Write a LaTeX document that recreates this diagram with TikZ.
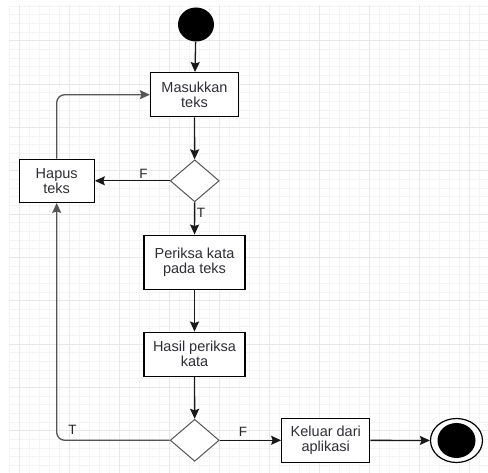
\documentclass[tikz,border=0pt]{standalone}
\usepackage{fontspec}
\setmainfont{Liberation Sans}
\usetikzlibrary{arrows.meta,shapes.geometric}
\definecolor{gridminor}{HTML}{F4F4F4}
\definecolor{gridmajor}{HTML}{E8E8E8}
\definecolor{txt}{HTML}{2E2E36}
\definecolor{edgegray}{HTML}{555555}
\begin{document}
\begin{tikzpicture}[x=1pt,y=-1pt,
  act/.style={draw=black,line width=1.3pt,fill=white,inner sep=0pt,align=center,
    font=\fontsize{14.5}{15}\selectfont,text=txt},
  dec/.style={diamond,draw=edgegray,line width=1pt,fill=white,inner sep=0pt,
    minimum width=49pt,minimum height=42pt},
  flow/.style={draw=black!90,line width=1.3pt,-{Stealth[length=10pt,width=9pt,inset=1.5pt]}},
  loopflow/.style={flow,draw=edgegray,rounded corners=8pt},
  lab/.style={font=\fontsize{13.5}{14}\selectfont,text=black!85,inner sep=1.5pt}
]
\useasboundingbox (0,0) rectangle (488,473);
\fill[white] (0,0) rectangle (488,473);

% background grid: fine lines every 10 x 8.67 units, heavier every fifth
\foreach \i in {0,...,47} \draw[gridminor,line width=0.8pt] ({9+10*\i},5) -- ({9+10*\i},473);
\foreach \j in {0,...,53} \draw[gridminor,line width=0.8pt] (9,{6+8.667*\j}) -- (488,{6+8.667*\j});
\foreach \i in {0,...,9} \draw[gridmajor,line width=1pt] ({19+50*\i},5) -- ({19+50*\i},473);
\foreach \j in {0,...,9} \draw[gridmajor,line width=1pt] (9,{40.7+43.33*\j}) -- (488,{40.7+43.33*\j});

% nodes
\node[ellipse,fill=black,minimum width=36pt,minimum height=34pt,inner sep=0pt] (start) at (196,24.5) {};
\node[act,minimum width=88pt,minimum height=44pt] (masuk) at (194.5,94.7) {Masukkan\\teks};
\node[dec] (d1) at (194.7,180.8) {};
\node[act,minimum width=75pt,minimum height=43pt] (hapus) at (56.7,180.8) {Hapus\\teks};
\node[act,minimum width=101pt,minimum height=54pt] (periksa) at (194.5,262.2) {Periksa kata\\pada teks};
\node[act,minimum width=101pt,minimum height=44pt] (hasil) at (194.5,354.2) {Hasil periksa\\kata};
\node[dec] (d2) at (194.7,440.3) {};
\node[act,minimum width=88pt,minimum height=44pt] (keluar) at (325.8,440.3) {Keluar dari\\aplikasi};
\node[ellipse,draw=black,line width=1.2pt,fill=white,minimum width=52pt,minimum height=44pt,inner sep=0pt] (end) at (456.5,440.5) {};
\node[ellipse,fill=black,minimum width=38pt,minimum height=35pt,inner sep=0pt] (endcore) at (end.center) {};

% connectors
\draw[flow] (start) -- (masuk);
\draw[flow] (masuk) -- (d1);
\draw[flow] (d1) -- node[lab,pos=0.35,anchor=south]{F} (hapus);
\draw[loopflow] (hapus.north) |- (masuk.west);
\draw[flow] (d1) -- node[lab,pos=0.34,anchor=west]{T} (periksa);
\draw[flow] (periksa) -- (hasil);
\draw[flow] (hasil) -- (d2);
\draw[flow] (d2) -- node[lab,pos=0.38,anchor=south,inner sep=3pt]{F} (keluar);
\draw[loopflow] (d2.west) -| node[lab,pos=0.43,anchor=south,inner sep=5pt]{T} (hapus.south);
\draw[flow] (keluar) -- (end);
\end{tikzpicture}
\end{document}
